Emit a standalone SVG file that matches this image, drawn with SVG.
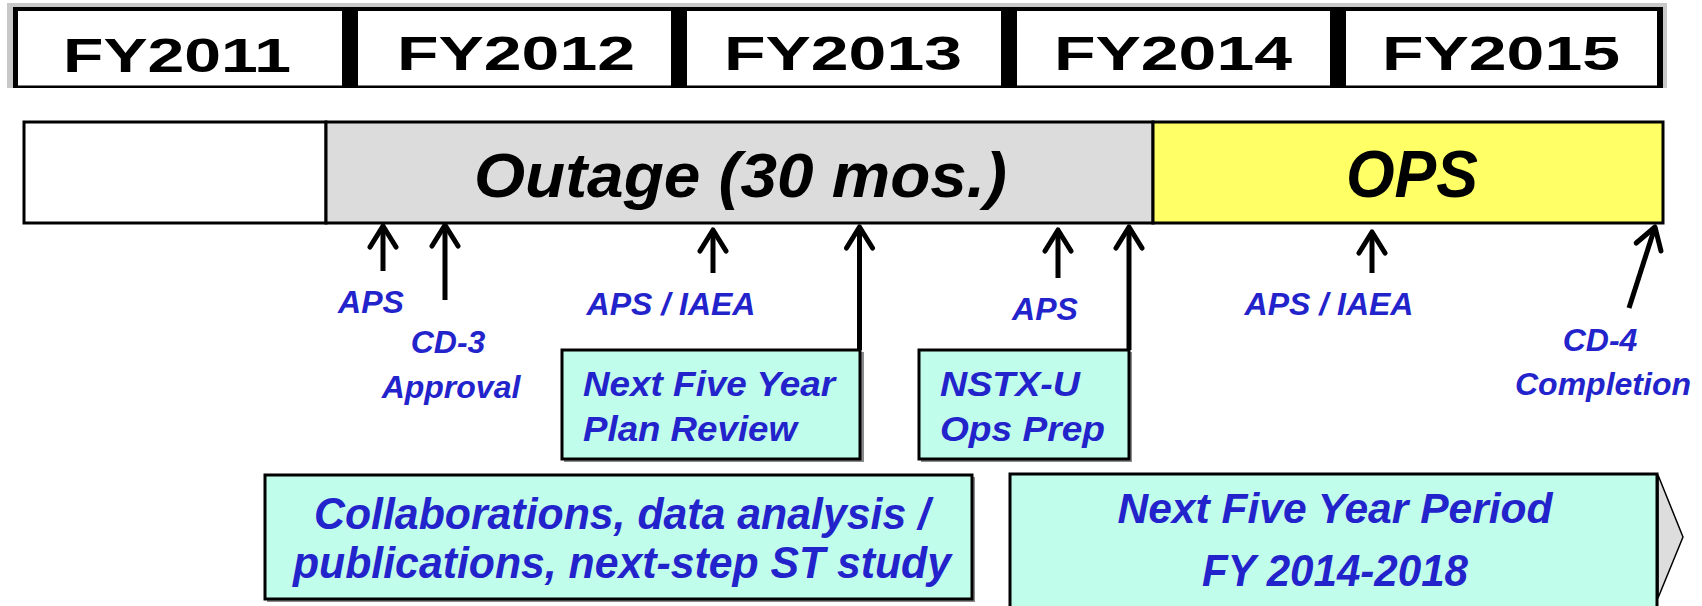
<svg xmlns="http://www.w3.org/2000/svg" width="1702" height="606" viewBox="0 0 1702 606">
<style>
.fy{font-family:"Liberation Sans",Arial,sans-serif;font-weight:bold;font-size:49px;fill:#000;text-anchor:middle}
.big{font-family:"Liberation Sans",Arial,sans-serif;font-weight:bold;font-style:italic;fill:#000}
.lbl{font-family:"Liberation Sans",Arial,sans-serif;font-weight:bold;font-style:italic;font-size:32px;fill:#2323CC}
.bx{font-family:"Liberation Sans",Arial,sans-serif;font-weight:bold;font-style:italic;fill:#2323CC}
.box{fill:#C1FDEB;stroke:#000;stroke-width:3}
.shadow{fill:#8A8A8A}
.arr{stroke:#000;stroke-width:5;fill:none;marker-end:url(#head)}
</style>
<defs>
<marker id="head" markerUnits="userSpaceOnUse" viewBox="-26 -16 30 32" refX="0" refY="0" markerWidth="30" markerHeight="32" orient="auto">
<path d="M -21 -13 L 0 0 L -21 13" fill="none" stroke="#000" stroke-width="5" stroke-linecap="round" stroke-linejoin="round"/>
</marker>
</defs>

<g id="header">
<rect x="7" y="3" width="1660" height="85" fill="#C8C8C8"/>
<rect x="13" y="7" width="1650" height="81" fill="#FFF"/>
<rect x="13" y="7" width="1650" height="4" fill="#000"/>
<rect x="13" y="85.5" width="1650" height="2.5" fill="#000"/>
<rect x="13" y="7" width="5" height="81" fill="#000"/>
<rect x="1657" y="7" width="6" height="81" fill="#000"/>
<rect x="342" y="7" width="16" height="81" fill="#000"/>
<rect x="671" y="7" width="16" height="81" fill="#000"/>
<rect x="1001" y="7" width="16" height="81" fill="#000"/>
<rect x="1330" y="7" width="16" height="81" fill="#000"/>
<text class="fy" x="177" y="72" textLength="228" lengthAdjust="spacingAndGlyphs">FY2011</text>
<text class="fy" x="516" y="70" textLength="238" lengthAdjust="spacingAndGlyphs">FY2012</text>
<text class="fy" x="843" y="70" textLength="238" lengthAdjust="spacingAndGlyphs">FY2013</text>
<text class="fy" x="1173" y="70" textLength="238" lengthAdjust="spacingAndGlyphs">FY2014</text>
<text class="fy" x="1501" y="70" textLength="238" lengthAdjust="spacingAndGlyphs">FY2015</text>
</g>

<g id="bar-pre">
<rect x="24" y="122" width="302" height="101" fill="#FFF" stroke="#000" stroke-width="3"/>
</g>
<g id="bar-outage">
<rect x="326" y="122" width="827" height="101" fill="#DCDCDC" stroke="#000" stroke-width="3"/>
<text class="big" x="474" y="197" font-size="63" textLength="533" lengthAdjust="spacingAndGlyphs">Outage (30 mos.)</text>
</g>
<g id="bar-ops">
<rect x="1153" y="122" width="510" height="101" fill="#FFFF66" stroke="#000" stroke-width="3"/>
<text class="big" x="1346" y="197" font-size="66" textLength="132" lengthAdjust="spacingAndGlyphs">OPS</text>
</g>

<g id="connectors">
<path class="arr" d="M 383 271 L 383 226"/>
<path class="arr" d="M 445 300 L 445 225"/>
<path class="arr" d="M 713 273 L 713 230"/>
<path class="arr" d="M 859.5 350 L 859.5 227"/>
<path class="arr" d="M 1058 278 L 1058 230"/>
<path class="arr" d="M 1129 350 L 1129 227"/>
<path class="arr" d="M 1372 273 L 1372 232"/>
<path class="arr" d="M 1629 308 L 1655 227"/>
</g>

<g id="label-aps1"><text class="lbl" x="371" y="313" text-anchor="middle">APS</text></g>
<g id="label-cd3">
<text class="lbl" x="448" y="353" text-anchor="middle">CD-3</text>
<text class="lbl" x="451" y="398" text-anchor="middle">Approval</text>
</g>
<g id="label-apsiaea1"><text class="lbl" x="671" y="315" text-anchor="middle">APS / IAEA</text></g>
<g id="label-aps2"><text class="lbl" x="1045" y="320" text-anchor="middle">APS</text></g>
<g id="label-apsiaea2"><text class="lbl" x="1329" y="315" text-anchor="middle">APS / IAEA</text></g>
<g id="label-cd4">
<text class="lbl" x="1600" y="351" text-anchor="middle">CD-4</text>
<text class="lbl" x="1603" y="395" text-anchor="middle">Completion</text>
</g>

<g id="box-plan-review">
<rect class="shadow" x="564" y="352" width="300" height="110"/>
<rect class="box" x="562" y="350" width="298" height="109"/>
<text class="bx" x="583" y="396" font-size="35" textLength="252" lengthAdjust="spacingAndGlyphs">Next Five Year</text>
<text class="bx" x="583" y="441" font-size="35" textLength="214" lengthAdjust="spacingAndGlyphs">Plan Review</text>
</g>

<g id="box-ops-prep">
<rect class="shadow" x="921" y="352" width="211" height="110"/>
<rect class="box" x="919" y="350" width="210" height="109"/>
<text class="bx" x="940" y="396" font-size="35" textLength="140" lengthAdjust="spacingAndGlyphs">NSTX-U</text>
<text class="bx" x="940" y="441" font-size="35" textLength="165" lengthAdjust="spacingAndGlyphs">Ops Prep</text>
</g>

<g id="box-collab">
<rect class="shadow" x="267" y="477" width="708" height="125"/>
<rect class="box" x="265" y="475" width="707" height="124"/>
<text class="bx" x="622" y="529" font-size="45" text-anchor="middle" textLength="616" lengthAdjust="spacingAndGlyphs">Collaborations, data analysis /</text>
<text class="bx" x="622" y="578" font-size="45" text-anchor="middle" textLength="658" lengthAdjust="spacingAndGlyphs">publications, next-step ST study</text>
</g>

<g id="box-next-period">
<polygon points="1658,475 1683,537 1658,598" fill="#DDDDDD" stroke="#000" stroke-width="1.5" stroke-linejoin="round"/>
<rect class="box" x="1010" y="474" width="647" height="150"/>
<text class="bx" x="1335" y="523" font-size="43" text-anchor="middle" textLength="435" lengthAdjust="spacingAndGlyphs">Next Five Year Period</text>
<text class="bx" x="1335" y="586" font-size="45" text-anchor="middle" textLength="266" lengthAdjust="spacingAndGlyphs">FY 2014-2018</text>
</g>
</svg>
